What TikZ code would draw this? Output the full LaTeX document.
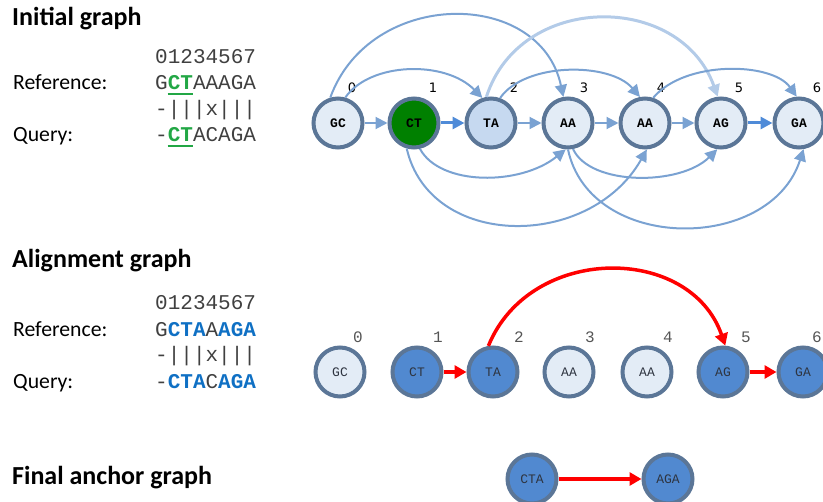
\documentclass[tikz,border=0pt]{standalone}
\usepackage{fontspec}
\setmainfont{Carlito}
\newfontfamily\seqfont{Liberation Mono}
\newfontfamily\idxfont{DejaVu Sans}
\usetikzlibrary{arrows.meta,calc}

\definecolor{nodeline}{HTML}{5B7697}
\definecolor{nodefill}{HTML}{E3ECF6}
\definecolor{tafill}{HTML}{C6D9F0}
\definecolor{ctgreen}{HTML}{008000}
\definecolor{edgeblue}{HTML}{7AA2D2}
\definecolor{edgestrong}{HTML}{4F8BD8}
\definecolor{edgepale}{HTML}{B3CBE8}
\definecolor{selfill}{HTML}{5189D0}
\definecolor{seqgrey}{HTML}{404040}
\definecolor{seqgreen}{HTML}{22A745}
\definecolor{seqblue}{HTML}{0F70C4}
\definecolor{idxgrey}{HTML}{555555}
\definecolor{kmertext}{HTML}{2E3440}

% bold green k-mer letters
\newcommand\greenmark[1]{\textcolor{seqgreen}{\bfseries #1}}
% bold blue anchor letters
\newcommand\bluemark[1]{\textcolor{seqblue}{\bfseries #1}}

\begin{document}
\begin{tikzpicture}[x=1pt,y=-1pt,
  head/.style={anchor=base west, inner sep=0pt, font=\bfseries\fontsize{26}{26}\selectfont},
  rowlabel/.style={anchor=base west, inner sep=0pt, font=\fontsize{21.7}{21.7}\selectfont},
  seq/.style={anchor=base west, inner sep=0pt, text=seqgrey, font=\seqfont\fontsize{21}{21}\selectfont},
  kmer/.style={circle, minimum size=49pt, inner sep=0pt, draw=nodeline, line width=4pt, fill=nodefill},
  kmerbold/.style={kmer, font=\seqfont\bfseries\fontsize{13}{13}\selectfont, text=black},
  kmerplain/.style={kmer, font=\seqfont\fontsize{13}{13}\selectfont, text=kmertext},
  sel/.style={fill=selfill},
  topidx/.style={inner sep=0pt, font=\idxfont\fontsize{13}{13}\selectfont},
  midx/.style={inner sep=0pt, text=idxgrey, font=\seqfont\fontsize{16}{16}\selectfont},
  kmerline/.style={draw=seqgreen, line width=2.2pt},
  dep/.style={draw=edgeblue, line width=2pt, -{Triangle[length=12pt,width=12pt]}},
  strongdep/.style={draw=edgestrong, line width=3pt, -{Triangle[length=12pt,width=12pt]}},
  paledep/.style={draw=edgepale, line width=3pt, -{Triangle[length=12pt,width=12pt]}},
  hit/.style={draw=red, line width=3.5pt, -{Triangle[length=12pt,width=13pt]}}
]
\useasboundingbox (0,0) rectangle (823,502);

% ---------- Initial graph: text ----------
\node[head] (h1) at (12,26) {Initial graph};
\node[seq] (i1) at (155,64) {01234567};
\node[rowlabel] (r1) at (13,90) {Reference:};
\node[seq] (s1) at (155,90) {G\greenmark{CT}AAAGA};
\node[seq] (a1) at (155,116) {-|||x|||};
\node[rowlabel] (q1) at (13,142) {Query:};
\node[seq] (t1) at (155,142) {-\greenmark{CT}ACAGA};
% underline the CT k-mer (characters 1-2, 12.6pt advance each)
\draw[kmerline] ($(s1.base west)+(12.6,4.2)$) -- ($(s1.base west)+(37.8,4.2)$);
\draw[kmerline] ($(t1.base west)+(12.6,4.2)$) -- ($(t1.base west)+(37.8,4.2)$);

% ---------- Initial graph: k-mer nodes ----------
\node[kmerbold] (gc)  at (338,123) {GC};
\node[kmerbold, fill=ctgreen] (ct) at (414,123) {CT};
\node[kmerbold, fill=tafill] (ta) at (491,123) {TA};
\node[kmerbold] (aa3) at (568,123) {AA};
\node[kmerbold] (aa4) at (645,123) {AA};
\node[kmerbold] (ag)  at (721,123) {AG};
\node[kmerbold] (ga)  at (799,123) {GA};

\node[topidx] (n0) at (352,88) {0};
\node[topidx] (n1) at (433,88) {1};
\node[topidx] (n2) at (514,88) {2};
\node[topidx] (n3) at (584,88) {3};
\node[topidx] (n4) at (661,88) {4};
\node[topidx] (n5) at (739,88) {5};
\node[topidx] (n6) at (817,88) {6};

% consecutive k-mers
\draw[dep] (gc) -- (ct);
\draw[strongdep] (ct) -- (ta);
\draw[dep] (ta) -- (aa3);
\draw[dep] (aa3) -- (aa4);
\draw[dep] (aa4) -- (ag);
\draw[strongdep] (ag) -- (ga);

% arcs above
\draw[dep] (gc.107) .. controls (370,-12) and (540,-12) .. (aa3.100);
\draw[dep] (gc.74) .. controls (370,62) and (445,60) .. (ta.109);
\draw[paledep] (ta.100) .. controls (520,-8) and (680,-8) .. (ag.97);
\draw[dep] (ta.70) .. controls (525,62) and (610,62) .. (aa4.101);
\draw[dep] (aa4.72) .. controls (685,60) and (772,62) .. (ga.95);

% arcs below
\draw[dep] (ct.283) .. controls (440,186) and (520,186) .. (aa3.265);
\draw[dep] (ct.254) .. controls (430,250) and (590,250) .. (aa4.274);
\draw[dep] (aa3.281) .. controls (590,186) and (680,186) .. (ag.262);
\draw[dep] (aa3.270) .. controls (590,253) and (770,253) .. (ga.280);

% ---------- Alignment graph: text ----------
\node[head] (h2) at (12,268) {Alignment graph};
\node[seq] (i2) at (155,310) {01234567};
\node[rowlabel] (r2) at (13,337) {Reference:};
\node[seq] (s2) at (155,337) {G\bluemark{CTA}A\bluemark{AGA}};
\node[seq] (a2) at (155,362) {-|||x|||};
\node[rowlabel] (q2) at (13,389) {Query:};
\node[seq] (t2) at (155,389) {-\bluemark{CTA}C\bluemark{AGA}};

% ---------- Alignment graph: nodes ----------
\node[kmerplain] (m0) at (340,372) {GC};
\node[kmerplain, sel] (m1) at (417,372) {CT};
\node[kmerplain, sel] (m2) at (493,372) {TA};
\node[kmerplain] (m3) at (569,372) {AA};
\node[kmerplain] (m4) at (647,372) {AA};
\node[kmerplain, sel] (m5) at (723,372) {AG};
\node[kmerplain, sel] (m6) at (803,372) {GA};

\node[midx] (k0) at (358,337) {0};
\node[midx] (k1) at (438,337) {1};
\node[midx] (k2) at (519,337) {2};
\node[midx] (k3) at (590,337) {3};
\node[midx] (k4) at (668,337) {4};
\node[midx] (k5) at (746,337) {5};
\node[midx] (k6) at (817,337) {6};

\draw[hit] (m1) -- (m2);
\draw[hit] (m2.100) .. controls (530,244) and (690,244) .. (m5.85);
\draw[hit] (m5) -- (m6);

% ---------- Final anchor graph ----------
\node[head] (h3) at (12,485) {Final anchor graph};
\node[kmerplain, sel] (cta) at (532,479) {CTA};
\node[kmerplain, sel] (aga) at (668,479) {AGA};
\draw[hit] (cta) -- (aga);

\end{tikzpicture}
\end{document}
